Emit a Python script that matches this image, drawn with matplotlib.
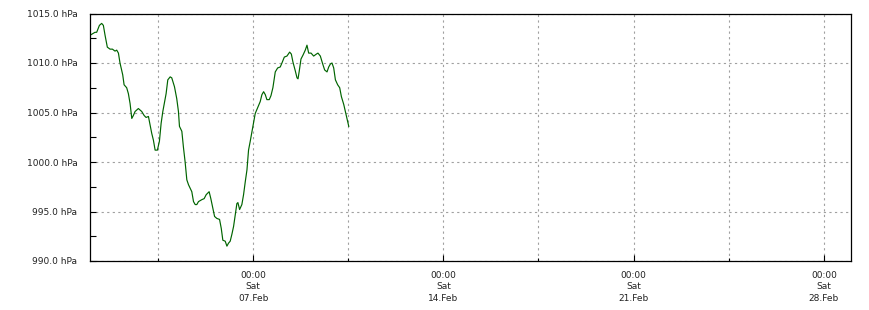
import numpy as np
import pandas as pd
import matplotlib
matplotlib.use("Agg")
import matplotlib.pyplot as plt
import matplotlib.dates as mdates
from matplotlib.ticker import MultipleLocator, FuncFormatter

# hours after 01.Feb 00:00 and pressure
hours = [0, 4.4, 5.9, 8.3, 10.3, 11.8, 13.3, 15.3, 17.7, 19.8, 22.1, 23.6, 25.1, 26.5,
         28.9, 30.1, 32.4, 33.9, 35.4, 36.9, 38.3, 39.8, 42.7, 45.7, 47.8, 49.5, 51.6,
         53.1, 54.5, 56.0, 57.5, 59.5, 61.3, 62.8, 64.3, 65.4, 67.2, 68.7, 70.8, 72.2,
         74.6, 76.6, 78.1, 79.0, 81.1, 82.5, 84.0, 85.5, 87.0, 89.9, 91.4, 92.9, 94.3,
         95.8, 98.8, 100.8, 102.6, 105.2, 106.7, 108.2, 110.0, 112.0, 114.4, 115.9,
         117.3, 119.4, 120.9, 122.3, 123.8, 125.3, 126.8, 128.2, 129.7, 130.6, 132.1,
         134.1, 135.6, 137.1, 138.6, 140.0, 141.5, 143.9, 145.9, 147.4, 150.3, 151.8,
         153.3, 154.8, 156.2, 158.3, 159.8, 161.5, 163.6, 165.7, 168.0, 169.5, 171.6,
         173.9, 176.3, 177.8, 179.2, 181.3, 182.8, 183.7, 184.8, 186.3, 188.1, 190.1,
         191.6, 193.1, 195.2, 197.5, 199.9, 201.3, 203.4, 205.5, 207.2, 209.3, 210.8,
         212.3, 213.7, 215.2, 216.7, 218.7, 220.5, 222.0, 224.1, 225.5, 227.0, 228.5]
pressure = [1012.8, 1013.1, 1013.1, 1013.8, 1014.0, 1013.8, 1012.8, 1011.6, 1011.4, 1011.4,
            1011.2, 1011.3, 1011.0, 1010.0, 1008.8, 1007.8, 1007.5, 1006.9, 1005.9, 1004.4,
            1004.7, 1005.1, 1005.4, 1005.1, 1004.7, 1004.5, 1004.6, 1003.7, 1002.9, 1002.2,
            1001.2, 1001.2, 1002.1, 1003.9, 1005.1, 1005.8, 1006.9, 1008.3, 1008.6, 1008.5,
            1007.6, 1006.4, 1005.1, 1003.6, 1003.1, 1001.5, 1000.0, 998.2, 997.7, 997.0,
            996.0, 995.7, 995.7, 996.0, 996.2, 996.3, 996.7, 997.0, 996.3, 995.5,
            994.5, 994.3, 994.2, 993.3, 992.1, 992.0, 991.5, 991.8, 992.0, 992.7,
            993.5, 994.6, 995.8, 995.9, 995.2, 995.7, 996.7, 998.0, 999.2, 1001.2,
            1002.1, 1003.6, 1004.9, 1005.3, 1006.1, 1006.8, 1007.1, 1006.8, 1006.3, 1006.3,
            1006.7, 1007.5, 1009.1, 1009.5, 1009.6, 1010.0, 1010.6, 1010.7, 1011.1, 1010.9,
            1010.1, 1009.2, 1008.5, 1008.4, 1009.2, 1010.4, 1010.8, 1011.3, 1011.8, 1011.0,
            1011.0, 1010.7, 1010.9, 1011.0, 1010.7, 1009.9, 1009.3, 1009.1, 1009.6, 1009.9,
            1010.0, 1009.5, 1008.3, 1007.8, 1007.5, 1006.6, 1005.8, 1005.1, 1004.4, 1003.6]

start = pd.Timestamp("2026-02-01 00:00")
end = pd.Timestamp("2026-03-01 00:00")
times = start + pd.to_timedelta(hours, unit="h")

fig = plt.figure(figsize=(8.7, 3.1), dpi=100)
ax = fig.add_axes([90 / 870, 1 - 261 / 310, 761 / 870, 247.5 / 310])

ax.plot(times, pressure, color="#006400", lw=0.85)

ax.set_xlim(start, end)
ax.set_ylim(990, 1015)

# weekly labels on Saturdays, grid every 3.5 days
ax.xaxis.set_major_locator(mdates.WeekdayLocator(byweekday=mdates.SA))
ax.xaxis.set_major_formatter(mdates.DateFormatter("%H:%M\n%a\n%d.%b"))
minor_x = pd.date_range("2026-02-03 12:00", "2026-02-28", freq="7D")
ax.set_xticks(mdates.date2num(minor_x), minor=True)

ax.yaxis.set_major_locator(MultipleLocator(5))
ax.yaxis.set_minor_locator(MultipleLocator(2.5))
ax.yaxis.set_major_formatter(FuncFormatter(lambda v, p: f"{v:.1f} hPa"))

ax.grid(True, which="major", color="#a0a0a0", linestyle=(0, (2, 3)), lw=0.8)
ax.grid(True, which="minor", axis="x", color="#a0a0a0", linestyle=(0, (2, 3)), lw=0.8)

ax.tick_params(which="both", direction="in", length=4.3, width=0.8, colors="black",
               labelsize=6.5, labelcolor="#222222")
ax.tick_params(axis="x", which="minor", length=2.3)
ax.tick_params(axis="y", pad=9)
ax.tick_params(axis="x", pad=7)
for lab in ax.get_xticklabels():
    lab.set_linespacing(1.35)

for s in ax.spines.values():
    s.set_linewidth(0.9)
    s.set_color("black")

fig.savefig("out.png", dpi=100)
